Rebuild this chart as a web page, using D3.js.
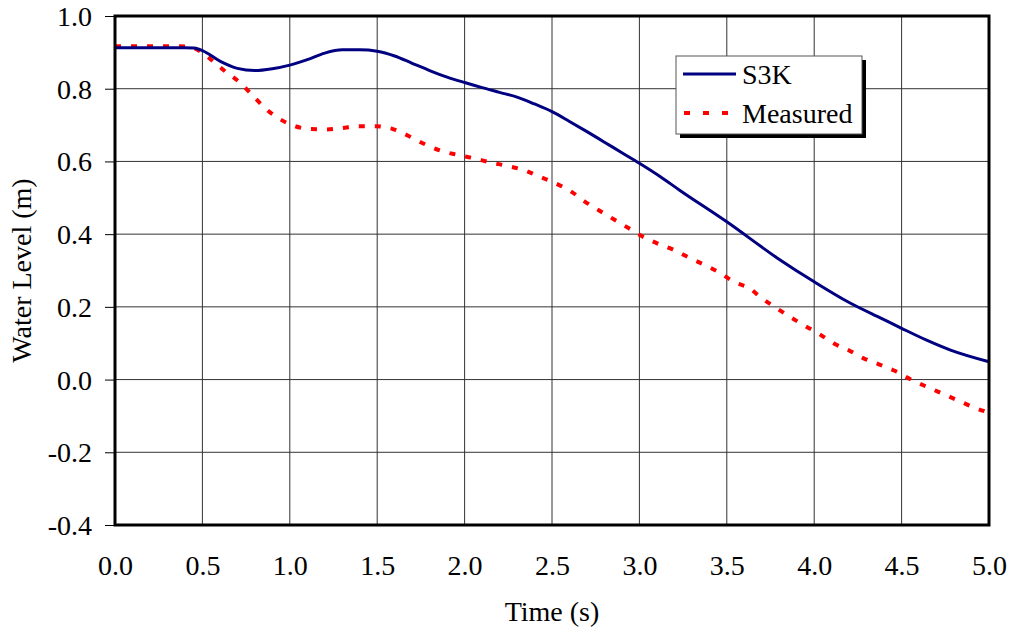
<!DOCTYPE html>
<html>
<head>
<meta charset="utf-8">
<script src="https://cdn.jsdelivr.net/npm/d3@7"></script>
<style>
  body { margin: 0; background: #fff; }
  text { font-family: "Liberation Serif", "Times New Roman", serif; fill: #000; }
</style>
</head>
<body>
<svg id="chart" width="1012" height="634"></svg>
<script>
// S3K simulation
const s3kTime = [0, 0.1, 0.2, 0.3, 0.4, 0.45, 0.5, 0.6, 0.7, 0.8, 0.9, 1.0, 1.1, 1.2, 1.3, 1.4, 1.5,
  1.6, 1.7, 1.8, 1.9, 2.0, 2.1, 2.2, 2.3, 2.4, 2.5, 2.6, 2.7, 2.8, 2.9, 3.0, 3.12, 3.23, 3.5,
  3.79, 4.0, 4.2, 4.39, 4.5, 4.64, 4.78, 5.0];
const s3kLevel = [0.913, 0.913, 0.913, 0.913, 0.913, 0.912, 0.905, 0.876, 0.856, 0.850, 0.855, 0.865,
  0.880, 0.898, 0.907, 0.907, 0.903, 0.890, 0.870, 0.850, 0.832, 0.817, 0.803, 0.790, 0.777, 0.758,
  0.737, 0.710, 0.682, 0.653, 0.624, 0.595, 0.558, 0.521, 0.434, 0.334, 0.269, 0.212, 0.167, 0.141,
  0.109, 0.081, 0.049];

// Measured
const measTime = [0, 0.1, 0.2, 0.3, 0.4, 0.45, 0.49, 0.56, 0.64, 0.715, 0.79, 0.86, 0.935, 1.03, 1.115,
  1.21, 1.30, 1.39, 1.49, 1.59, 1.68, 1.77, 1.86, 1.96, 2.05, 2.15, 2.24, 2.34, 2.43, 2.52, 2.61,
  2.69, 2.77, 2.86, 2.94, 3.02, 3.11, 3.19, 3.29, 3.375, 3.46, 3.54, 3.63, 3.70, 3.78, 3.86, 3.95,
  4.03, 4.11, 4.20, 4.28, 4.37, 4.47, 4.55, 4.64, 4.74, 4.83, 4.91, 5.0];
const measLevel = [0.917, 0.917, 0.917, 0.917, 0.916, 0.912, 0.902, 0.876, 0.844, 0.817, 0.780, 0.746,
  0.719, 0.697, 0.689, 0.688, 0.692, 0.697, 0.697, 0.689, 0.670, 0.648, 0.630, 0.618, 0.609, 0.597,
  0.588, 0.576, 0.558, 0.540, 0.517, 0.489, 0.465, 0.439, 0.416, 0.393, 0.373, 0.358, 0.334, 0.315,
  0.294, 0.269, 0.251, 0.224, 0.198, 0.173, 0.147, 0.125, 0.100, 0.080, 0.059, 0.042, 0.022, 0.001,
  -0.019, -0.040, -0.059, -0.076, -0.091];

const xTicks = [0, 0.5, 1.0, 1.5, 2.0, 2.5, 3.0, 3.5, 4.0, 4.5, 5.0];
const yTicks = [-0.4, -0.2, 0.0, 0.2, 0.4, 0.6, 0.8, 1.0];

const margin = { left: 115, top: 16, right: 1012 - 989, bottom: 634 - 525 };
const svg = d3.select("#chart");
const width = 1012 - margin.left - margin.right;
const height = 634 - margin.top - margin.bottom;

const x = d3.scaleLinear().domain([0, 5]).range([0, width]);
const y = d3.scaleLinear().domain([-0.4, 1.0]).range([height, 0]);

// plain hyphen for negatives, like the original
const fmt = d => d.toFixed(1);

const g = svg.append("g").attr("transform", `translate(${margin.left},${margin.top})`);

// grid
g.selectAll("line.vgrid").data(xTicks).enter().append("line")
  .attr("x1", d => x(d)).attr("x2", d => x(d))
  .attr("y1", 0).attr("y2", height)
  .attr("stroke", "#333").attr("stroke-width", 1);
g.selectAll("line.hgrid").data(yTicks).enter().append("line")
  .attr("x1", 0).attr("x2", width)
  .attr("y1", d => y(d)).attr("y2", d => y(d))
  .attr("stroke", "#333").attr("stroke-width", 1);

// y axis with outward ticks
const yAxis = g.append("g")
  .call(d3.axisLeft(y).tickValues(yTicks).tickFormat(fmt).tickSize(10).tickPadding(13));
yAxis.select(".domain").remove();
yAxis.selectAll("text").attr("font-size", 28).attr("font-family", "Liberation Serif").attr("dy", "0.34em");

// x axis labels, no ticks
const xAxis = g.append("g").attr("transform", `translate(0,${height})`)
  .call(d3.axisBottom(x).tickValues(xTicks).tickFormat(fmt).tickSize(0).tickPadding(30));
xAxis.select(".domain").remove();
xAxis.selectAll("text").attr("font-size", 28).attr("font-family", "Liberation Serif");

// lines
const line = d3.line().x(d => x(d[0])).y(d => y(d[1])).curve(d3.curveMonotoneX);

g.append("path")
  .datum(measTime.map((t, i) => [t, measLevel[i]]))
  .attr("d", line)
  .attr("fill", "none")
  .attr("stroke", "#ff0000")
  .attr("stroke-width", 4)
  .attr("stroke-dasharray", "6,10");

g.append("path")
  .datum(s3kTime.map((t, i) => [t, s3kLevel[i]]))
  .attr("d", line)
  .attr("fill", "none")
  .attr("stroke", "#000080")
  .attr("stroke-width", 3);

// frame
g.append("rect")
  .attr("width", width).attr("height", height)
  .attr("fill", "none").attr("stroke", "#000").attr("stroke-width", 3);

// legend
const lg = svg.append("g").attr("transform", "translate(676,56)");
lg.append("rect").attr("x", 4).attr("y", 4).attr("width", 186).attr("height", 78).attr("fill", "#000");
lg.append("rect").attr("width", 186).attr("height", 78).attr("fill", "#fff").attr("stroke", "#555").attr("stroke-width", 1);
lg.append("line").attr("x1", 7).attr("x2", 60).attr("y1", 18).attr("y2", 18)
  .attr("stroke", "#000080").attr("stroke-width", 3);
lg.append("line").attr("x1", 8).attr("x2", 60).attr("y1", 57).attr("y2", 57)
  .attr("stroke", "#ff0000").attr("stroke-width", 4).attr("stroke-dasharray", "6,13");
lg.append("text").attr("x", 66).attr("y", 28).attr("font-size", 28).text("S3K");
lg.append("text").attr("x", 66).attr("y", 67).attr("font-size", 28).text("Measured");

// axis titles
svg.append("text")
  .attr("x", margin.left + width / 2).attr("y", 621)
  .attr("text-anchor", "middle").attr("font-size", 28).text("Time (s)");
svg.append("text")
  .attr("transform", `translate(31,${margin.top + height / 2}) rotate(-90)`)
  .attr("text-anchor", "middle").attr("font-size", 28).text("Water Level (m)");
</script>
</body>
</html>
